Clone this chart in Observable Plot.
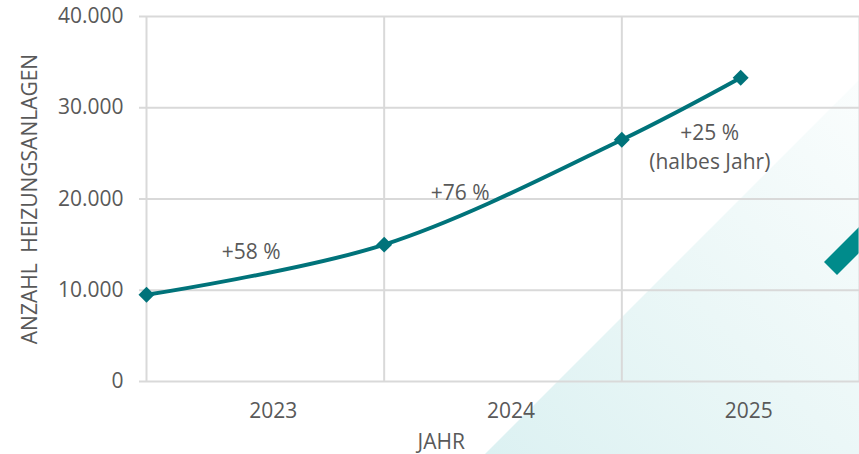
<!DOCTYPE html>
<html>
<head>
<meta charset="utf-8">
<script src="https://cdn.jsdelivr.net/npm/d3@7"></script>
<script src="https://cdn.jsdelivr.net/npm/@observablehq/plot@0.6"></script>
<style>
  html, body { margin: 0; padding: 0; background: #ffffff; }
  #wrap { position: relative; width: 859px; height: 454px; overflow: hidden; }
  #tri {
    position: absolute; left: 0; top: 0; width: 859px; height: 454px;
    clip-path: polygon(485px 454px, 859px 80px, 859px 454px);
    background: linear-gradient(45deg, #d8eff0 0%, #dcf1f2 37%, #ebf7f7 65%, #fafdfd 94%, #ffffff 100%);
  }
  #bar {
    position: absolute; left: 0; top: 0; width: 859px; height: 454px;
    clip-path: polygon(824px 262px, 859px 227px, 859px 253px, 837px 275px);
    background: #008b8b;
  }
  #chart { position: absolute; left: 0; top: 0; }
  #chart svg { background: transparent !important; }
</style>
</head>
<body>
<div id="wrap">
  <div id="tri"></div>
  <div id="bar"></div>
  <div id="chart"></div>
</div>
<script>
// ---- data ----
const pointYears = [2023, 2024, 2025, 2025.5];
const pointValues = [9500, 15000, 26500, 33300];
const yTicks = [0, 10000, 20000, 30000, 40000];
const yearLabels = [2023, 2024, 2025];
const yearBounds = [2023, 2024, 2025, 2026];
const annotTexts = ["+58 %", "+76 %", "+25 %\n(halbes Jahr)"];
const annotYears = [2023.44, 2024.32, 2025.37];
const annotValues = [14500, 20900, 25900];
const xTitle = "JAHR";
const yTitle = "ANZAHL\u2002HEIZUNGSANLAGEN";

const points = pointYears.map((x, i) => ({x, y: pointValues[i]}));
const annots = annotTexts.map((t, i) => ({x: annotYears[i], y: annotValues[i], t}));

const de = d3.formatLocale({decimal: ",", thousands: ".", grouping: [3], currency: ["", " €"]});
const fmt = de.format(",");

const teal = "#00737a";
const grid = "#d9d9d9";
const textColor = "#595959";

const chart = Plot.plot({
  width: 859,
  height: 454,
  marginLeft: 146,
  marginRight: 0,
  marginTop: 16,
  marginBottom: 73,
  style: {fontFamily: "'Open Sans', sans-serif", fontSize: "21px", color: textColor, background: "transparent"},
  x: {domain: [2023, 2026]},
  y: {domain: [0, 40000]},
  marks: [
    Plot.ruleY(yTicks, {stroke: grid, strokeWidth: 2}),
    Plot.ruleX(yearBounds, {stroke: grid, strokeWidth: 2}),
    Plot.axisY(yTicks, {
      tickSize: 7, tickPadding: 16, stroke: grid, strokeWidth: 2,
      tickFormat: fmt, fill: textColor,
      label: yTitle, labelAnchor: "center", labelOffset: 124, labelArrow: "none"
    }),
    Plot.axisX(yearLabels.map(d => d + 0.5), {
      tickSize: 0, tickPadding: 22, dx: 8, fill: textColor,
      tickFormat: d => String(Math.floor(d)), label: null
    }),
    Plot.text([xTitle], {
      x: () => 2024.24, frameAnchor: "bottom", dy: 67, text: d => d,
      fill: textColor, lineAnchor: "bottom"
    }),
    Plot.line(points, {x: "x", y: "y", stroke: teal, strokeWidth: 4, curve: "catmull-rom"}),
    Plot.dot(points, {x: "x", y: "y", symbol: "diamond2", r: 7.2, fill: teal, stroke: "none"}),
    Plot.text(annots, {x: "x", y: "y", text: "t", fill: textColor, lineHeight: 1.4, lineAnchor: "middle"})
  ]
});
document.getElementById("chart").appendChild(chart);
</script>
</body>
</html>
